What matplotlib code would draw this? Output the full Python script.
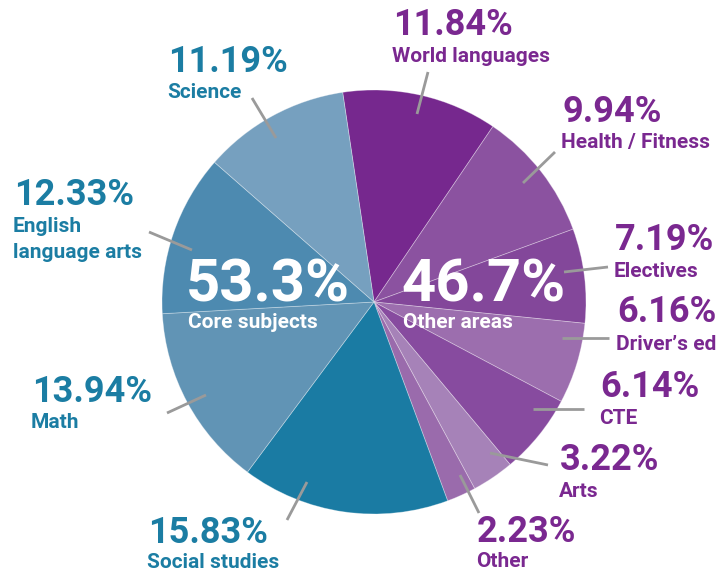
import matplotlib.pyplot as plt

# slices, clockwise from the top
categories = ['World languages', 'Health / Fitness', 'Electives', "Driver\u2019s ed", 'CTE', 'Arts', 'Other',
              'Social studies', 'Math', 'English\nlanguage arts', 'Science']
values = [11.84, 9.94, 7.19, 6.16, 6.14, 3.22, 2.23, 15.83, 13.94, 12.33, 11.19]
groups = ['other'] * 7 + ['core'] * 4
colors = ['#76288e', '#8b52a0', '#83479a', '#9c6eae', '#874b9f', '#a682b8', '#9a6bac',
          '#1a7ba3', '#6194b5', '#4d8ab0', '#76a0bf']

group_names = {'core': 'Core subjects', 'other': 'Other areas'}
text_colors = {'core': '#1b7da3', 'other': '#7a2890'}

# label layout in pixels: (x, number baseline, name baseline)
label_pos = [(393, 35, 62), (562, 122, 148), (615, 250, 277), (617, 322, 350), (600, 397, 424),
             (560, 470, 497), (477, 542, 567), (148, 543, 568), (32, 402, 428), (14, 205, 232),
             (168, 72, 98)]
leaders = [((428, 72), (417, 114)), ((555, 152), (523, 183)), ((608, 267), (564, 272)),
           ((609, 338), (562, 338)), ((584, 409), (533, 409)), ((548, 465), (490, 453)),
           ((479, 513), (460, 475)), ((287, 520), (307, 482)), ((167, 413), (206, 395)),
           ((149, 232), (192, 250)), ((252, 98), (276, 138))]
center = (374, 302)
radius = 212

plt.rcParams['font.family'] = ['Roboto', 'DejaVu Sans']

fig = plt.figure(figsize=(7.16, 5.73), dpi=100)
ax = fig.add_axes([0, 0, 1, 1])

# y axis is inverted, so counterclock=True runs clockwise on screen
ax.pie(values, colors=colors, center=center, radius=radius, startangle=-98.5,
       counterclock=True, wedgeprops=dict(edgecolor=(1, 1, 1, 0.35), linewidth=0.6),
       frame=True)
ax.set_xlim(0, 716)
ax.set_ylim(573, 0)
ax.set_aspect('equal')
ax.axis('off')

for (p0, p1) in leaders:
    ax.plot([p0[0], p1[0]], [p0[1], p1[1]], color='#9a9a9a', lw=2.0, solid_capstyle='butt')

for cat, val, grp, (x, yb, yn) in zip(categories, values, groups, label_pos):
    c = text_colors[grp]
    ax.text(x, yb, f'{val:.2f}%', color=c, fontsize=26, fontweight='bold',
            va='baseline', ha='left')
    lines = cat.split('\n')
    for i, ln in enumerate(lines):
        ax.text(x - 1, yn + i * 26, ln, color=c, fontsize=15, fontweight='bold',
                va='baseline', ha='left')

# group totals inside the pie
core_total = sum(v for v, g in zip(values, groups) if g == 'core')
other_total = sum(v for v, g in zip(values, groups) if g == 'other')
for total, grp, x in [(core_total, 'core', 186), (other_total, 'other', 401)]:
    ax.text(x, 302, f'{total:.1f}%', color='white', fontsize=43, fontweight='bold',
            va='baseline', ha='left')
    ax.text(x + 2, 328, group_names[grp], color='white', fontsize=15, fontweight='bold',
            va='baseline', ha='left')

fig.savefig('out.png', dpi=100)
